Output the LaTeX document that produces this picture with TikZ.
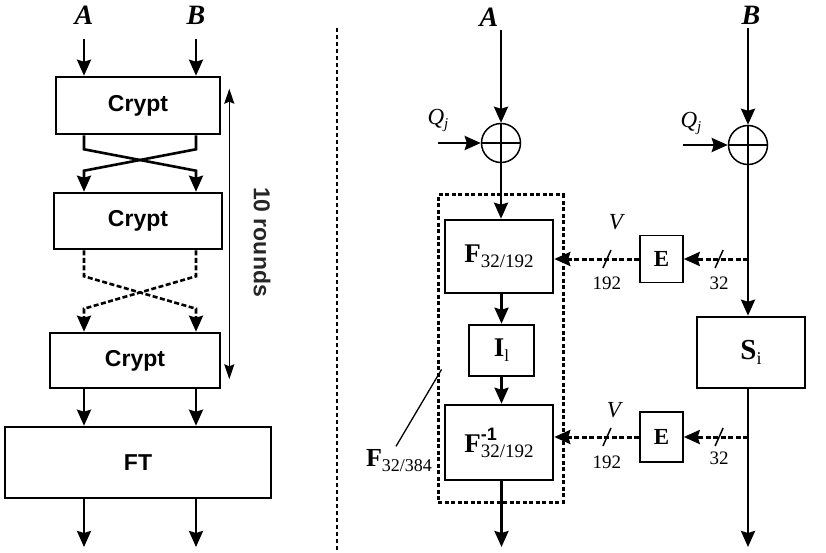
\documentclass[tikz,border=0pt]{standalone}
\usepackage{fontspec}
\setmainfont{Liberation Serif}
\setsansfont{Liberation Sans}
\usepackage{tikz}
\usetikzlibrary{shapes, arrows.meta, positioning, calc, fit}

\newcommand{\fz}[1]{\fontsize{#1}{#1}\selectfont}
\newcommand{\lowsub}[3]{{\bfseries #1}\raisebox{-5pt}{\fz{#2}#3}}

\begin{document}
\begin{tikzpicture}
  [
    x=1pt, y=-1pt,
    Box/.style={rectangle, draw=black, line width=2.6pt, inner sep=0pt},
    Crypt/.style={Box, font=\sffamily\bfseries\fz{23}},
    Serif/.style={Box, font=\fz{27}},
    Small/.style={rectangle, draw=black, line width=1.5pt, inner sep=0pt, font=\bfseries\fz{23}},
    Xor/.style={circle, draw=black, line width=1.5pt, minimum size=39pt, inner sep=0pt},
    Label/.style={font=\bfseries\itshape\fz{28}, inner sep=1pt},
    Num/.style={font=\fz{19}, inner sep=0pt},
    Var/.style={font=\itshape\fz{23}, inner sep=0pt},
    Arrow/.style={-{Stealth[length=16pt, width=14pt, inset=2pt]}, line width=2.6pt},
    Dash/.style={Arrow, dash pattern=on 5pt off 2.5pt, line width=3pt},
    Tick/.style={line width=1.5pt},
    Rounds/.style={{Stealth[length=15pt, width=10pt, inset=2pt]}-{Stealth[length=15pt, width=10pt, inset=2pt]}, line width=1.5pt}
  ]
  \useasboundingbox (0,0) rectangle (826,553);

  % Left side
  \coordinate (xa) at (84,0);
  \coordinate (xb) at (196,0);
  \coordinate (ol) at (0,547);
  \node[Label] (la) at (84,15) {A};
  \node[Label] (lb) at (196,15) {B};
  \node[Crypt, minimum width=164pt, minimum height=57pt] (c1) at (138,105.5) {Crypt};
  \node[Crypt, minimum width=168pt, minimum height=56pt] (c2) at (138,221) {Crypt};
  \node[Crypt, minimum width=170pt, minimum height=55pt] (c3) at (135,360.5) {Crypt};
  \node[Crypt, minimum width=266pt, minimum height=71pt] (ft) at (138,462.5) {FT};
  \node[font=\sffamily\bfseries\fz{23}, text=black!85, rotate=-90] (rl) at (262,242) {10 rounds};

  \path [Arrow, draw, shorten <=14pt] (la.south) -- (la.south |- c1.north);
  \path [Arrow, draw, shorten <=14pt] (lb.south) -- (lb.south |- c1.north);
  \path [Arrow, draw] (c1.south -| xa) -- ++(0,14) -- ($(c2.north -| xb)+(0,-21)$) -- (c2.north -| xb);
  \path [Arrow, draw] (c1.south -| xb) -- ++(0,14) -- ($(c2.north -| xa)+(0,-21)$) -- (c2.north -| xa);
  \path [Arrow, draw, dash pattern=on 5pt off 2.5pt] (c2.south -| xa) -- ++(0,26) -- ($(c3.north -| xb)+(0,-23)$) -- (c3.north -| xb);
  \path [Arrow, draw, dash pattern=on 5pt off 2.5pt] (c2.south -| xb) -- ++(0,26) -- ($(c3.north -| xa)+(0,-23)$) -- (c3.north -| xa);
  \path [Arrow, draw] (c3.south -| xa) -- (ft.north -| xa);
  \path [Arrow, draw] (c3.south -| xb) -- (ft.north -| xb);
  \path [Arrow, draw] (ft.south -| xa) -- (xa |- ol);
  \path [Arrow, draw] (ft.south -| xb) -- (xb |- ol);
  \path [Rounds, draw] ([xshift=8pt, yshift=-13pt]c1.north east) -- ([xshift=8pt, yshift=10pt]c3.south east);

  % Divider
  \draw [line width=2.8pt, dash pattern=on 4pt off 3pt] (337,28) -- (337,553);

  % Right side
  \node[Label] (ra) at (489,17) {A};
  \node[Label] (rb) at (751,15) {B};
  \node[Xor] (x1) at (501,143) {};
  \node[Xor] (x2) at (748,145) {};
  \node[Var] (q1) at (438,120) {Q\raisebox{-4pt}{\fz{15}j}};
  \node[Var] (q2) at (691,123) {Q\raisebox{-4pt}{\fz{15}j}};
  \coordinate (q1in) at (438,143);
  \coordinate (q2in) at (683,145);
  \node[Serif, minimum width=108pt, minimum height=73pt] (fa) at (499,256.5) {\lowsub{F}{19}{32/192}};
  \node[Serif, minimum width=65pt, minimum height=51pt] (ii) at (501.5,350.5) {\lowsub{I}{17}{l}};
  \node[Serif, minimum width=108pt, minimum height=75pt] (fb) at (499,442.5)
    {{\bfseries F}\rlap{\raisebox{12pt}{\sffamily\bfseries\fz{18}-1}}\raisebox{-5pt}{\fz{19}32/192}};
  \node[draw, line width=3pt, dash pattern=on 4pt off 2.5pt, inner sep=0pt, fit={(438,195) (563,502)}] (fbig) {};
  \node[font=\fz{26}] (fl) at (399,461) {\lowsub{F}{18}{32/384}};
  \node[Serif, minimum width=108pt, minimum height=71pt, font=\fz{29}] (si) at (751,352.5) {\lowsub{S}{18}{i}};
  \node[Small, minimum width=43pt, minimum height=47pt] (e1) at (661.5,259) {E};
  \node[Small, minimum width=43pt, minimum height=50pt] (e2) at (661.5,437) {E};

  \draw [line width=1.5pt] (x1.north) -- (x1.south) (x1.west) -- (x1.east);
  \draw [line width=1.5pt] (x2.north) -- (x2.south) (x2.west) -- (x2.east);
  \path [Arrow, draw, shorten <=3pt] (x1 |- ra.south) -- (x1.north);
  \path [Arrow, draw, shorten <=3pt] (x2 |- rb.south) -- (x2.north);
  \path [Arrow, draw] (q1in) -- (x1.west);
  \path [Arrow, draw] (q2in) -- (x2.west);
  \path [Arrow, draw] (x1.south) -- (x1 |- fa.north);
  \path [Arrow, draw] (fa.south -| ii) -- (ii.north);
  \path [Arrow, draw] (ii.south) -- (ii |- fb.north);
  \path [Arrow, draw] (fb.south -| ii) -- (ii |- ol);
  \path [Arrow, draw] (x2.south) -- (x2 |- si.north);
  \path [Arrow, draw] (si.south -| x2) -- (x2 |- ol);
  \path [draw, line width=1.3pt] ([xshift=-3pt]fl.north) -- ($(fbig.west)+(5,21)$);

  % Dashed feeds
  \path [Dash, draw] (x2 |- e1) -- coordinate[pos=0.45] (k2) (e1.east);
  \path [Dash, draw] (e1.west) -- coordinate[pos=0.38] (k1) (e1 -| fa.east);
  \path [Dash, draw] (x2 |- e2) -- coordinate[pos=0.45] (k4) (e2.east);
  \path [Dash, draw] (e2.west) -- coordinate[pos=0.38] (k3) (e2 -| fb.east);
  \foreach \k in {k1, k2, k3, k4}
    \draw [Tick] ([shift={(-4pt,-9pt)}]\k) -- ([shift={(4pt,9pt)}]\k);
  \node[Num] (n1) at ([yshift=-24pt]k1) {192};
  \node[Num] (n2) at ([yshift=-24pt]k2) {32};
  \node[Num] (n3) at ([yshift=-25pt]k3) {192};
  \node[Num] (n4) at ([yshift=-21pt]k4) {32};
  \node[Var] (v1) at ([shift={(9pt,37pt)}]k1) {V};
  \node[Var] (v2) at ([shift={(7pt,27pt)}]k3) {V};

\end{tikzpicture}
\end{document}
